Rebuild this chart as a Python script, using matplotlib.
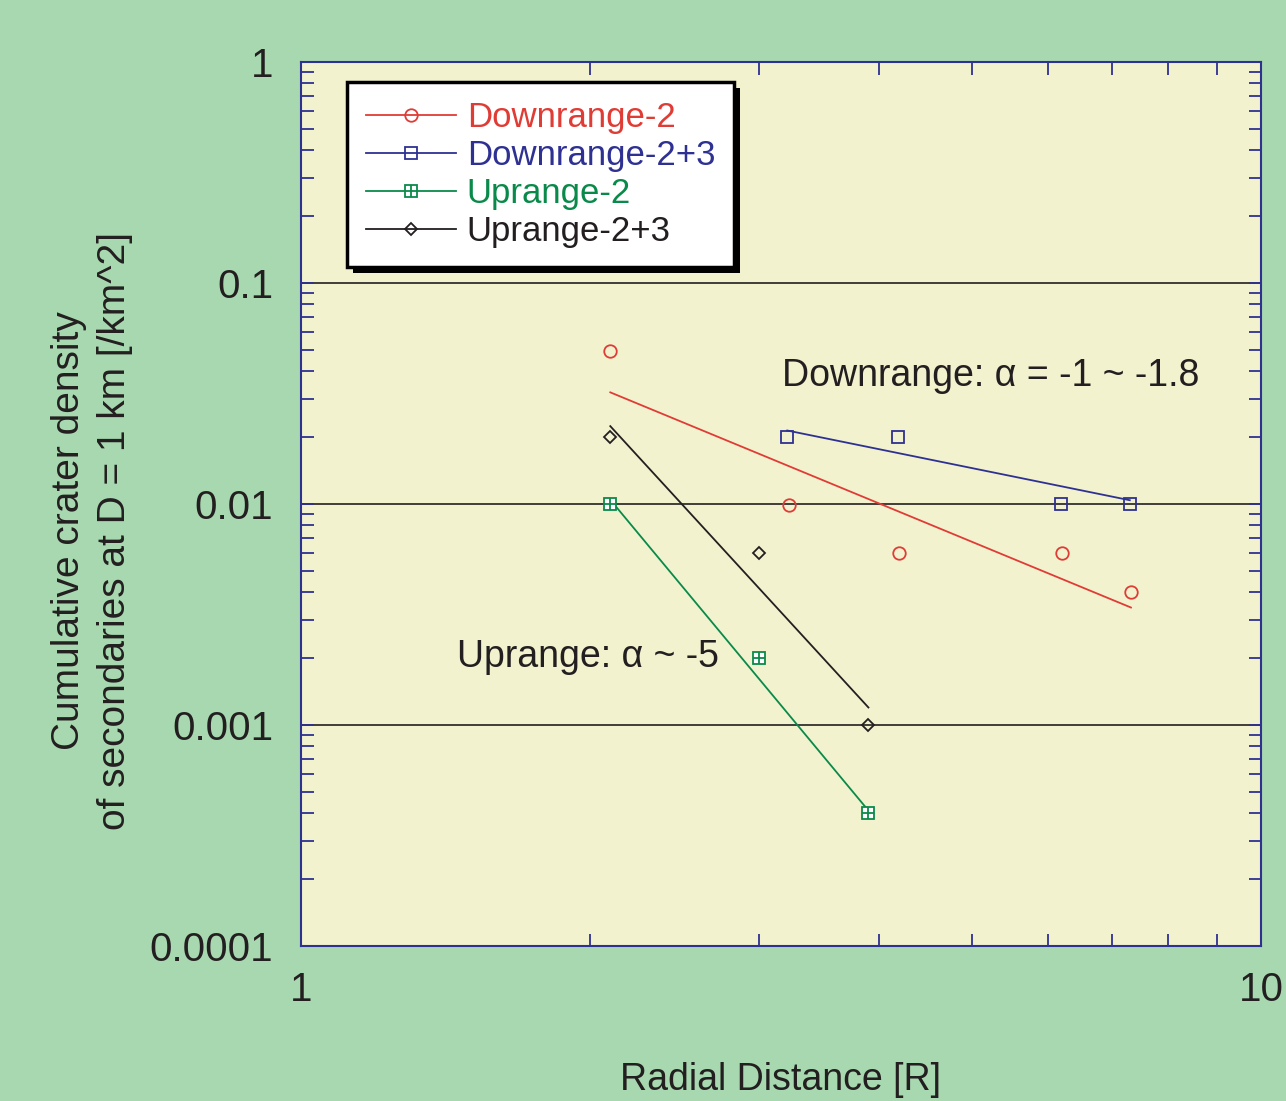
import matplotlib
matplotlib.use('Agg')
from matplotlib import pyplot as plt
from matplotlib.patches import Rectangle
from matplotlib.ticker import LogLocator, NullFormatter, FixedLocator, FixedFormatter

plt.rcParams['font.family'] = ['Liberation Sans', 'DejaVu Sans']

# measured points
down2_x = [2.10, 3.22, 4.20, 6.20, 7.32]
down2_y = [0.049, 0.0099, 0.0060, 0.0060, 0.0040]
down23_x = [3.21, 4.19, 6.19, 7.30]
down23_y = [0.020, 0.020, 0.010, 0.010]
up2_x = [2.10, 3.00, 3.90]
up2_y = [0.010, 0.0020, 0.0004]
up23_x = [2.10, 3.00, 3.90]
up23_y = [0.020, 0.0060, 0.0010]

# power-law fit lines (end points)
fit_down2_x = [2.10, 7.32]
fit_down2_y = [0.032, 0.0034]
fit_down23_x = [3.21, 7.30]
fit_down23_y = [0.0215, 0.0104]
fit_up2_x = [2.13, 3.90]
fit_up2_y = [0.0097, 0.00041]
fit_up23_x = [2.10, 3.90]
fit_up23_y = [0.0225, 0.0012]

red = '#e03c36'
blue = '#2e3192'
green = '#0a8a4a'
black = '#231f20'
bg = '#a8d8b0'
face = '#f2f2cf'

fig = plt.figure(figsize=(12.86, 11.01), dpi=100, facecolor=bg)
ax = fig.add_axes([0.234, 0.1408, 0.7466, 0.8029])
ax.set_facecolor(face)
ax.set_xscale('log')
ax.set_yscale('log')
ax.set_xlim(1, 10)
ax.set_ylim(1e-4, 1)

for yv in [0.1, 0.01, 0.001]:
    ax.axhline(yv, color=black, lw=1.2, zorder=1)

ax.plot(fit_down2_x, fit_down2_y, color=red, lw=1.3, zorder=2)
ax.plot(fit_down23_x, fit_down23_y, color=blue, lw=1.3, zorder=2)
ax.plot(fit_up2_x, fit_up2_y, color=green, lw=1.3, zorder=2)
ax.plot(fit_up23_x, fit_up23_y, color=black, lw=1.3, zorder=2)

ax.plot(down2_x, down2_y, 'o', ms=9, mfc='none', mec=red, mew=1.3, zorder=3)
ax.plot(down23_x, down23_y, 's', ms=8.5, mfc='none', mec=blue, mew=1.3, zorder=3)
ax.plot(up2_x, up2_y, 's', ms=8.5, mfc='white', mec=green, mew=1.3, zorder=3)
ax.plot(up2_x, up2_y, '+', ms=8.5, mec=green, mew=1.3, zorder=3)
ax.plot(up23_x, up23_y, 'D', ms=6.5, mfc='none', mec=black, mew=1.3, zorder=3)

# legend handles
h1, = ax.plot([], [], '-o', color=red, lw=1.3, ms=9, mfc='none', mew=1.3)
h2, = ax.plot([], [], '-s', color=blue, lw=1.3, ms=8.5, mfc='none', mew=1.3)
h3, = ax.plot([], [], '-s', color=green, lw=1.3, ms=8.5, mfc='white', mew=1.3)
h3b, = ax.plot([], [], '+', color=green, ms=8.5, mew=1.3)
h4, = ax.plot([], [], '-D', color=black, lw=1.3, ms=6.5, mfc='none', mew=1.3)
leg = ax.legend([h1, h2, (h3, h3b), h4],
                ['Downrange-2', 'Downrange-2+3', 'Uprange-2', 'Uprange-2+3'],
                loc='upper left', bbox_to_anchor=(0.048, 0.977), fontsize=25,
                frameon=True, fancybox=False, framealpha=1, edgecolor='black',
                handlelength=2.6, handletextpad=0.3, labelspacing=0.14,
                borderpad=0.55, borderaxespad=0, numpoints=1)
leg.get_frame().set_linewidth(2.5)
for txt, c in zip(leg.get_texts(), [red, blue, green, black]):
    txt.set_color(c)
leg.set_zorder(6)

ax.text(3.17, 0.038, 'Downrange: α = -1 ~ -1.8', fontsize=27, color=black, va='center')
ax.text(1.454, 0.00203, 'Uprange: α ~ -5', fontsize=27, color=black, va='center')

for s in ax.spines.values():
    s.set_color(blue)
    s.set_linewidth(1.5)

ax.xaxis.set_major_locator(FixedLocator([1, 10]))
ax.xaxis.set_major_formatter(FixedFormatter(['1', '10']))
ax.xaxis.set_minor_locator(LogLocator(base=10, subs=range(2, 10)))
ax.xaxis.set_minor_formatter(NullFormatter())
ax.yaxis.set_major_locator(FixedLocator([1e-4, 1e-3, 1e-2, 1e-1, 1]))
ax.yaxis.set_major_formatter(FixedFormatter(['0.0001', '0.001', '0.01', '0.1', '1']))
ax.yaxis.set_minor_locator(LogLocator(base=10, subs=range(2, 10), numticks=20))
ax.yaxis.set_minor_formatter(NullFormatter())
ax.tick_params(which='both', direction='in', top=True, right=True, color=blue,
               width=1.3, length=9)
ax.tick_params(axis='y', which='major', labelsize=29, pad=20, colors=black)
ax.tick_params(axis='x', which='major', labelsize=29, pad=18, colors=black)
ax.tick_params(which='major', color=blue)

fig.text(781 / 1286, 1 - 1080 / 1101, 'Radial Distance [R]', fontsize=27,
         ha='center', va='center', color=black)
fig.text(92 / 1286, 1 - 531 / 1101,
         'Cumulative crater density\nof secondaries at D = 1 km [/km^2]',
         fontsize=28, rotation=90, ha='center', va='center',
         multialignment='center', linespacing=1.34, color=black)

# hard drop shadow behind legend
fig.canvas.draw()
bb = leg.get_window_extent()
shadow = Rectangle((bb.x0 + 6, bb.y0 - 6), bb.width, bb.height, transform=None,
                   facecolor='black', edgecolor='none', zorder=5.5)
ax.add_artist(shadow)

fig.savefig('out.png', dpi=100, facecolor=bg)
